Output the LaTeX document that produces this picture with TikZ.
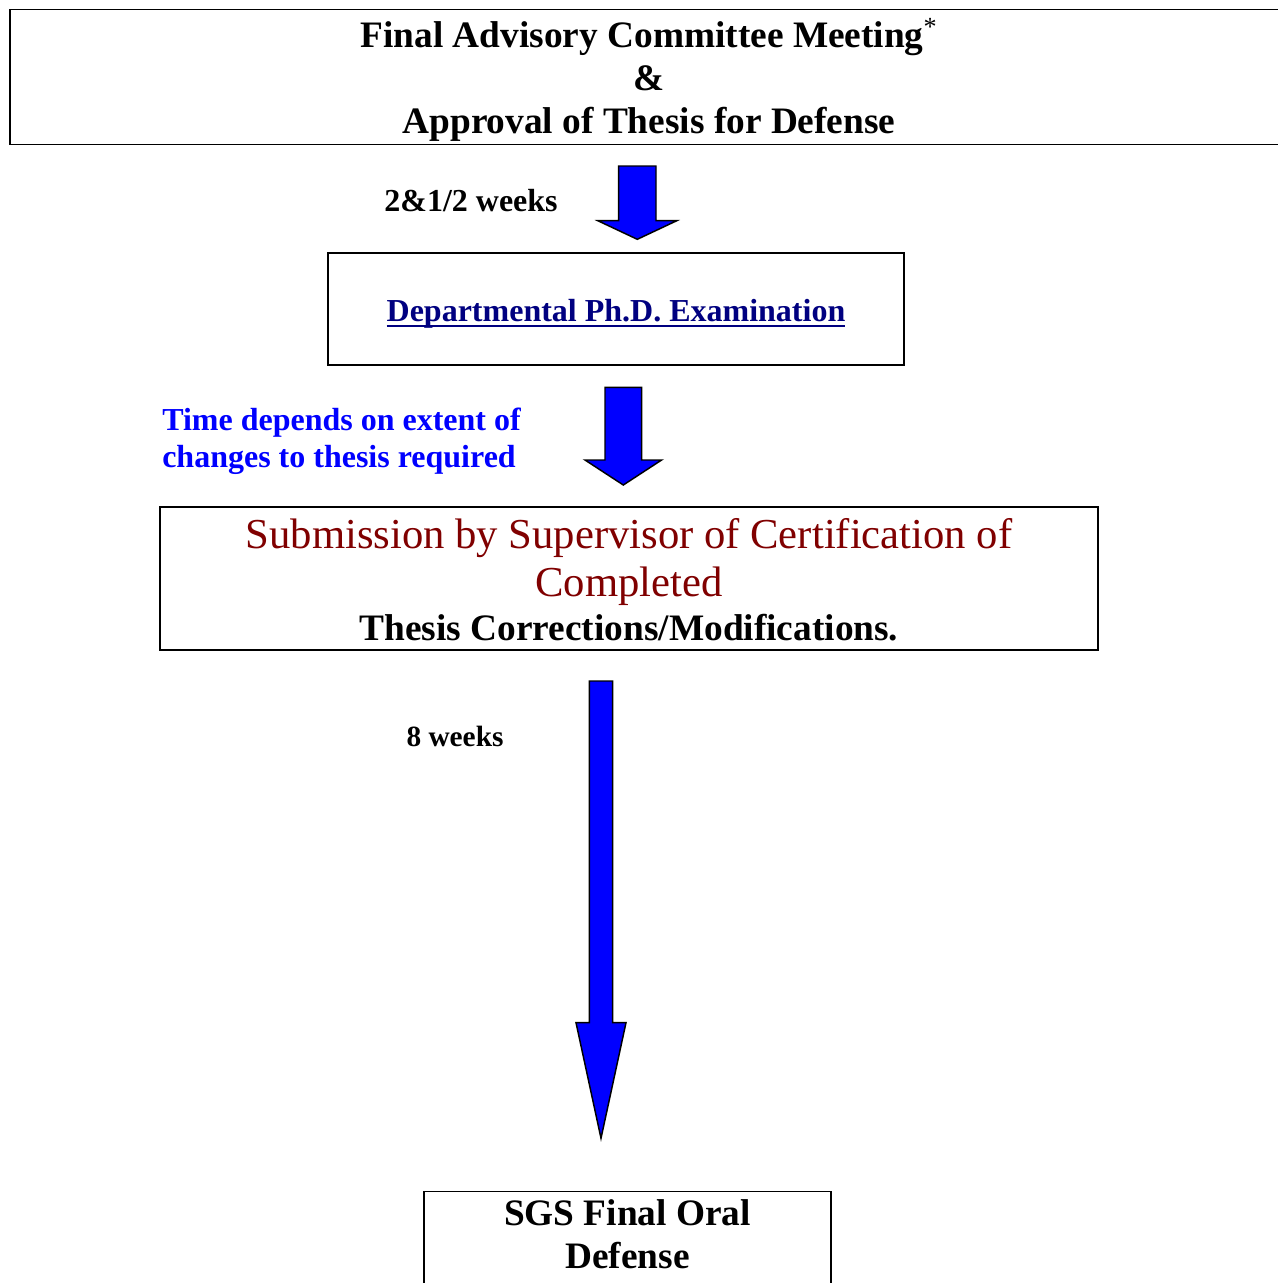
\documentclass[tikz,border=0pt]{standalone}
\usepackage{fontspec}
\setmainfont{Liberation Serif}
\usetikzlibrary{calc}
\definecolor{arrowblue}{RGB}{0,0,255}
\definecolor{navylink}{RGB}{0,0,128}
\definecolor{darkred}{RGB}{128,0,0}
\newcommand{\px}{0.75pt}
% move content down inside a node without changing the node's size
\newcommand{\shiftdown}[2]{\raisebox{-#1}[\height][\depth]{#2}}
% thick underline, as in the reference
\newcommand{\thickul}[1]{\setbox0\hbox{#1}\rlap{\smash{\rule[-4.3pt]{\wd0}{2.2pt}}}\box0}
% #1 start coordinate, #2 tip coordinate, #3 shaft half width, #4 head half width, #5 head length
\newcommand{\blockarrowdown}[5]{%
  \draw[blockarrow] ($(#1)+(-#3,0)$) -- ($(#2)+(-#3,-#5)$) -- ($(#2)+(-#4,-#5)$) -- (#2)
    -- ($(#2)+(#4,-#5)$) -- ($(#2)+(#3,-#5)$) -- ($(#1)+(#3,0)$) -- cycle;}
\tikzset{
  box/.style={draw=black, line width=1.1pt, inner sep=0pt},
  blockarrow/.style={draw=black, line width=1.1pt, fill=arrowblue, line join=miter},
  lbl/.style={font=\fontsize{22}{26}\selectfont\bfseries, inner sep=0pt},
}
\begin{document}
\begin{tikzpicture}[x=0.75pt, y=-0.75pt]
\clip (0,0) rectangle (1278,1283);
\fill[white] (0,0) rectangle (1278,1283);

% boxes
\node[box, line width=1.4pt, minimum width=1278*\px, minimum height=135*\px] (fam) at (649,77)
  {\shiftdown{2.25pt}{\parbox{600pt}{\centering\fontsize{28}{32.25}\selectfont\bfseries
   Final Advisory Committee Meeting\textsuperscript{\mdseries *}\\\&\\Approval of Thesis for Defense}}};

\node[box, minimum width=576*\px, minimum height=112*\px,
      font=\fontsize{24}{28}\selectfont\bfseries, text=navylink] (dept) at (616,309)
  {\shiftdown{3.75pt}{\thickul{Departmental Ph.D. Examination}}};

\node[box, minimum width=938*\px, minimum height=143*\px] (cert) at (629,578.5)
  {\shiftdown{1.1pt}{\parbox{700pt}{\centering\fontsize{32}{36}\selectfont
   \textcolor{darkred}{Submission by Supervisor of Certification of}\\
   \textcolor{darkred}{Completed}\\[-2.25pt]
   \fontsize{28}{35}\selectfont\bfseries Thesis Corrections/Modifications.}}};

\node[box, anchor=north, minimum width=407*\px, inner ysep=0pt] (sgs) at (627.5,1191)
  {\parbox[t][80pt][t]{300pt}{\centering\vspace*{6pt}\fontsize{28}{32.25}\selectfont\bfseries SGS Final Oral\\Defense}};

% labels
\node[lbl, font=\fontsize{24}{28}\selectfont\bfseries] (l1) at (471,201) {2\&1/2 weeks};
\node[lbl, text=arrowblue, anchor=west, align=left, font=\fontsize{24}{27.75}\selectfont\bfseries] (l2) at (162,441)
  {Time depends on extent of\\changes to thesis required};
\node[lbl] (l3) at (455,736) {8 weeks};

% arrows
\coordinate (a1s) at (637.3,166);
\coordinate (a1t) at (637.3,239.3);
\coordinate (a2s) at (623.3,387.3);
\coordinate (a2t) at (623.3,485);
\coordinate (a3s) at (601,681);
\coordinate (a3t) at (601,1138.3);
\blockarrowdown{a1s}{a1t}{18.7}{39.5}{18.6}
\blockarrowdown{a2s}{a2t}{18.3}{38.3}{25}
\blockarrowdown{a3s}{a3t}{11.7}{25}{115.6}
\end{tikzpicture}
\end{document}
